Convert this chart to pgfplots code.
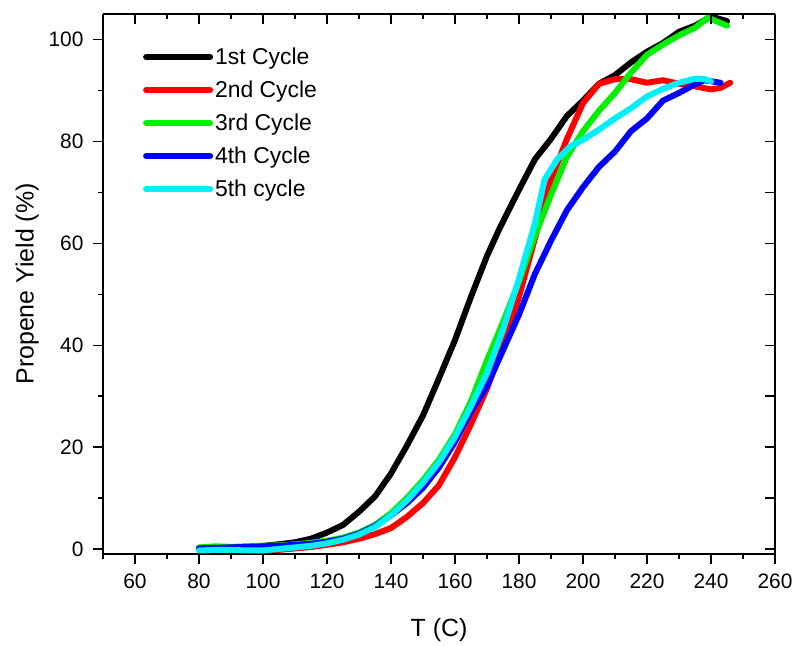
\documentclass[border=0pt]{standalone}
\usepackage{pgfplots}
\pgfplotsset{compat=1.18}
\usepackage{fontspec}
\setmainfont{Liberation Sans}
\definecolor{cgreen}{RGB}{0,240,0}
\definecolor{ccyan}{RGB}{0,240,250}
\begin{document}
\begin{tikzpicture}
\pgfplotsset{
  common/.style={
    width=672bp, height=540bp, scale only axis,
    xmin=50, xmax=260, ymin=-1, ymax=105,
    xtick={60,80,...,260}, minor xtick={50,70,...,250},
    ytick={0,20,...,100}, minor ytick={10,30,...,90},
    axis line style={-, line width=1.4bp},
    major tick length=10bp, minor tick length=5bp,
    every tick/.style={line width=1.2bp, black},
    every minor tick/.style={line width=1.2bp, black},
  }
}
\begin{axis}[common, name=main,
  axis x line*=bottom, axis y line*=left,
  tick align=outside,
  /pgf/number format/assume math mode=true,
  tick label style={font=\fontsize{21}{25}\selectfont},
  xticklabel style={yshift=-6bp},
  yticklabel style={xshift=-6bp},
  xlabel={T (C)}, ylabel={Propene Yield (\%)},
  label style={font=\fontsize{25}{29}\selectfont},
  xlabel style={yshift=-23bp},
  ylabel style={yshift=3bp},
  legend style={at={(0.055,0.945)}, anchor=north west, draw=none, fill=none,
    font=\fontsize{23}{27}\selectfont, row sep=11bp,
    /tikz/every even column/.append style={column sep=0bp}},
  legend cell align=left,
  legend image code/.code={\draw[#1, line cap=round] (0bp,0bp) -- (64bp,0bp);},
  every axis plot/.append style={line width=6bp, line join=round, line cap=round},
]
\addplot[black] table {
80 0
85 0.2
90 0.3
95 0.4
100 0.6
105 0.9
110 1.3
115 2.0
120 3.2
125 4.7
130 7.3
135 10.3
140 14.8
145 20.3
150 26.2
155 33.5
160 41
165 49.5
170 57.5
174 63
180 70.5
185 76.5
190 80.5
195 85
200 88
205 91.3
210 93
215 95.5
220 97.6
225 99.3
230 101.5
235 102.7
240 104.5
245 103.6
};
\addlegendentry{1st Cycle}
\addplot[red] table {
80 0
85 0.1
90 0.1
95 -0.2
100 -0.3
105 -0.2
110 0.1
115 0.4
120 0.8
125 1.3
130 2.0
135 2.9
140 4.1
145 6.3
150 9
155 12.5
160 18
165 24.5
170 31.5
175 40
180 49.5
185 61
190 72.5
195 80.5
200 87.5
205 91.3
210 92.2
215 92.2
220 91.5
225 92.0
230 91.3
235 90.8
240 90.2
243 90.5
246 91.5
};
\addlegendentry{2nd Cycle}
\addplot[cgreen] table {
80 0.3
85 0.5
90 0.4
95 0.5
100 0.6
105 0.7
110 0.9
115 1.2
120 1.6
125 2.2
130 3.2
135 4.7
140 7
145 10
150 13.5
155 17.5
160 22.5
165 29
170 37
175 44.5
180 52.5
185 61.5
190 69.5
195 77
200 82
205 86
210 89.5
215 93.5
220 97
225 99
230 100.8
235 102.3
239 104.3
242 103.5
245 102.7
};
\addlegendentry{3rd Cycle}
\addplot[blue] table {
80 0.1
85 0.2
90 0.3
95 0.4
100 0.5
105 0.6
110 0.8
115 1.0
120 1.4
125 2.0
130 3.0
135 4.5
140 6.6
145 9
150 12
155 16
160 21
165 27
170 32
175 39
180 46
185 54
190 60.5
195 66.5
200 71
205 75
210 78
215 82
220 84.5
225 88
230 89.5
235 91.2
238 92
243 91.5
};
\addlegendentry{4th Cycle}
\addplot[ccyan] table {
80 -0.3
85 -0.2
90 -0.2
95 -0.3
100 -0.3
105 0
110 0.3
115 0.6
120 1.1
125 1.8
130 2.8
135 4.3
140 6.6
145 9.5
150 13
155 17
160 22
165 28
170 34.5
175 43
180 53
185 64
188 72.5
192 76.5
196 79
200 80.3
205 82.3
210 84.5
215 86.5
220 88.8
225 90.3
230 91.5
235 92.3
238 92.2
240 91.8
};
\addlegendentry{5th cycle}
\end{axis}
\begin{axis}[common, at={(main.south west)}, anchor=south west,
  axis x line*=top, hide y axis, tick align=inside,
  xticklabels={}, ]
\end{axis}
\begin{axis}[common, at={(main.south west)}, anchor=south west,
  axis y line*=right, hide x axis, tick align=inside,
  minor tick length=10bp, yticklabels={}, ]
\end{axis}
\path ([shift={(-103bp,-92bp)}]main.south west) rectangle ([shift={(22bp,14bp)}]main.north east);
\end{tikzpicture}
\end{document}
